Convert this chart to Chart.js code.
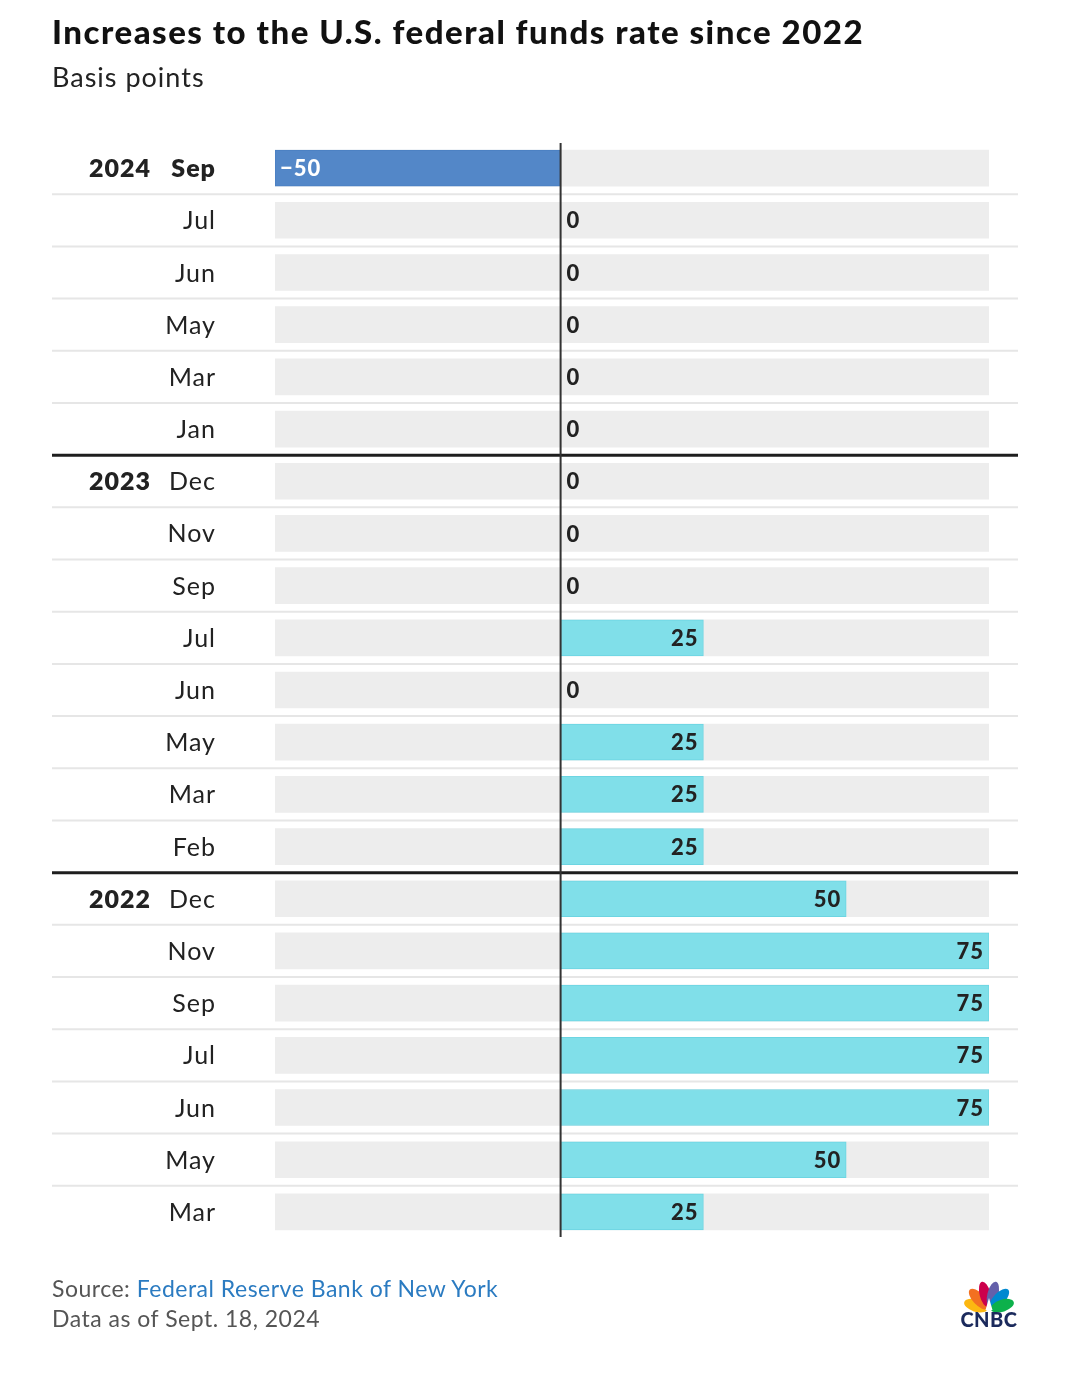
<!DOCTYPE html>
<html>
<head>
<meta charset="utf-8">
<script src="https://cdn.jsdelivr.net/npm/chart.js@4.4.0/dist/chart.umd.min.js"></script>
<style>
  html, body { margin: 0; padding: 0; background: #fff; }
  body { width: 1080px; height: 1377px; position: relative; overflow: hidden; font-family: "Lato", "Open Sans", sans-serif; }
  #chartWrap { position: absolute; left: 0; top: 0; width: 1080px; height: 1377px; }
  .title { position: absolute; left: 52px; top: 11px; font-size: 33px; font-weight: 900; color: #111; letter-spacing: 1.5px; white-space: nowrap; }
  .subtitle { position: absolute; left: 52px; top: 60px; font-size: 27px; color: #222; letter-spacing: 1px; white-space: nowrap; }
  .src { position: absolute; left: 52px; top: 1274px; font-size: 23px; color: #555; letter-spacing: 0.5px; white-space: nowrap; }
  .src span { color: #2b7bc1; }
  .date { position: absolute; left: 52px; top: 1304px; font-size: 23px; color: #555; letter-spacing: 0.5px; white-space: nowrap; }
  #logo { position: absolute; left: 958px; top: 1278px; }
</style>
</head>
<body>
<div id="chartWrap"><canvas id="c" width="1080" height="1377"></canvas></div>
<div class="title">Increases to the U.S. federal funds rate since 2022</div>
<div class="subtitle">Basis points</div>
<div class="src">Source: <span>Federal Reserve Bank of New York</span></div>
<div class="date">Data as of Sept. 18, 2024</div>
<svg id="logo" width="62" height="54" viewBox="0 0 62 54">
  <g transform="translate(31,32)">
    <g transform="rotate(-72)"><ellipse cx="0" cy="-14" rx="6" ry="12" fill="#fcb711"/></g>
    <g transform="rotate(-43)"><ellipse cx="0" cy="-15" rx="6" ry="13" fill="#f37021"/></g>
    <g transform="rotate(-14)"><ellipse cx="0" cy="-16" rx="5.5" ry="13" fill="#cc004c"/></g>
    <g transform="rotate(14)"><ellipse cx="0" cy="-16" rx="5.5" ry="13" fill="#6460aa"/></g>
    <g transform="rotate(43)"><ellipse cx="0" cy="-15" rx="6" ry="13" fill="#0089d0"/></g>
    <g transform="rotate(72)"><ellipse cx="0" cy="-14" rx="6" ry="12" fill="#0db14b"/></g>
    <path d="M-3.5,0 L0,-12 L3.5,0 Z" fill="#fff"/>
  </g>
  <text x="31" y="49" text-anchor="middle" font-family="Lato, sans-serif" font-weight="900" font-size="20" letter-spacing="0.5" fill="#1b2a5c">CNBC</text>
</svg>
<script>
// ---- Data ----
const months = ['Sep','Jul','Jun','May','Mar','Jan','Dec','Nov','Sep','Jul','Jun','May','Mar','Feb','Dec','Nov','Sep','Jul','Jun','May','Mar'];
const years  = ['2024','2024','2024','2024','2024','2024','2023','2023','2023','2023','2023','2023','2023','2023','2022','2022','2022','2022','2022','2022','2022'];
const changes = [-50,0,0,0,0,0, 0,0,0,25,0,25,25,25, 50,75,75,75,75,50,25];
const axisMin = -50;
const axisMax = 75;

const categories = months.map((m, i) => years[i] + ' ' + m);
const track = categories.map(() => [axisMin, axisMax]);

const NEG = '#5387c8', POS = '#80dfe9', TRACK = '#ededed';

const overlay = {
  id: 'overlay',
  beforeDatasetsDraw(chart) {
    const ctx = chart.ctx, y = chart.scales.y;
    ctx.save();
    for (let i = 0; i < categories.length - 1; i++) {
      const yy = (y.getPixelForValue(i) + y.getPixelForValue(i + 1)) / 2;
      const groupBreak = years[i] !== years[i + 1];
      ctx.beginPath();
      ctx.strokeStyle = groupBreak ? '#1e1e1e' : '#e6e6e6';
      ctx.lineWidth = groupBreak ? 3 : 2;
      ctx.moveTo(52, yy); ctx.lineTo(1018, yy);
      ctx.stroke();
    }
    // row labels
    ctx.textBaseline = 'middle';
    ctx.fillStyle = '#222';
    ctx.letterSpacing = '1px';
    for (let i = 0; i < categories.length; i++) {
      const yy = y.getPixelForValue(i) + 1;
      const first = i === 0 || years[i] !== years[i - 1];
      if (first) {
        ctx.font = '800 25px Lato';
        ctx.textAlign = 'right';
        ctx.fillText(years[i], 151, yy);
      }
      ctx.font = (i === 0 ? '800 ' : '400 ') + '25px Lato';
      ctx.textAlign = 'right';
      ctx.fillText(months[i], 216, yy);
    }
    ctx.restore();
  },
  afterDatasetsDraw(chart) {
    const ctx = chart.ctx, x = chart.scales.x, area = chart.chartArea;
    const meta = chart.getDatasetMeta(1);
    const zero = x.getPixelForValue(0);
    ctx.save();
    ctx.textBaseline = 'middle';
    ctx.font = '900 22px Lato';
    ctx.letterSpacing = '1px';
    meta.data.forEach((el, i) => {
      const v = changes[i];
      const yy = el.y + 1;
      if (v > 0) {
        ctx.fillStyle = '#222'; ctx.textAlign = 'right';
        ctx.fillText(String(v), el.x - 5, yy);
      } else if (v === 0) {
        ctx.fillStyle = '#222'; ctx.textAlign = 'left';
        ctx.fillText('0', zero + 6, yy);
      } else {
        ctx.fillStyle = '#fff'; ctx.textAlign = 'left';
        ctx.fillText('\u2212' + Math.abs(v), el.x + 5, yy);
      }
    });
    ctx.beginPath();
    ctx.strokeStyle = '#333';
    ctx.lineWidth = 2;
    ctx.moveTo(zero, area.top + 1);
    ctx.lineTo(zero, area.bottom - 1);
    ctx.stroke();
    ctx.restore();
  }
};

new Chart(document.getElementById('c'), {
  type: 'bar',
  data: {
    labels: categories,
    datasets: [
      { data: track, backgroundColor: TRACK, borderWidth: 0, order: 2, grouped: false, barThickness: 36 },
      { data: changes, order: 1, grouped: false, barThickness: 36,
        backgroundColor: changes.map(v => v < 0 ? NEG : POS),
        borderColor: changes.map(v => v < 0 ? '#4a7fc2' : '#6dd5e2'),
        borderWidth: 1 }
    ]
  },
  options: {
    indexAxis: 'y',
    responsive: false,
    animation: false,
    events: [],
    layout: { padding: { left: 275, right: 91, top: 142, bottom: 139 } },
    plugins: { legend: { display: false }, tooltip: { enabled: false } },
    scales: {
      x: { min: axisMin, max: axisMax, display: false, grid: { display: false } },
      y: { display: false, offset: true, grid: { display: false } }
    }
  },
  plugins: [overlay]
});
</script>
</body>
</html>
